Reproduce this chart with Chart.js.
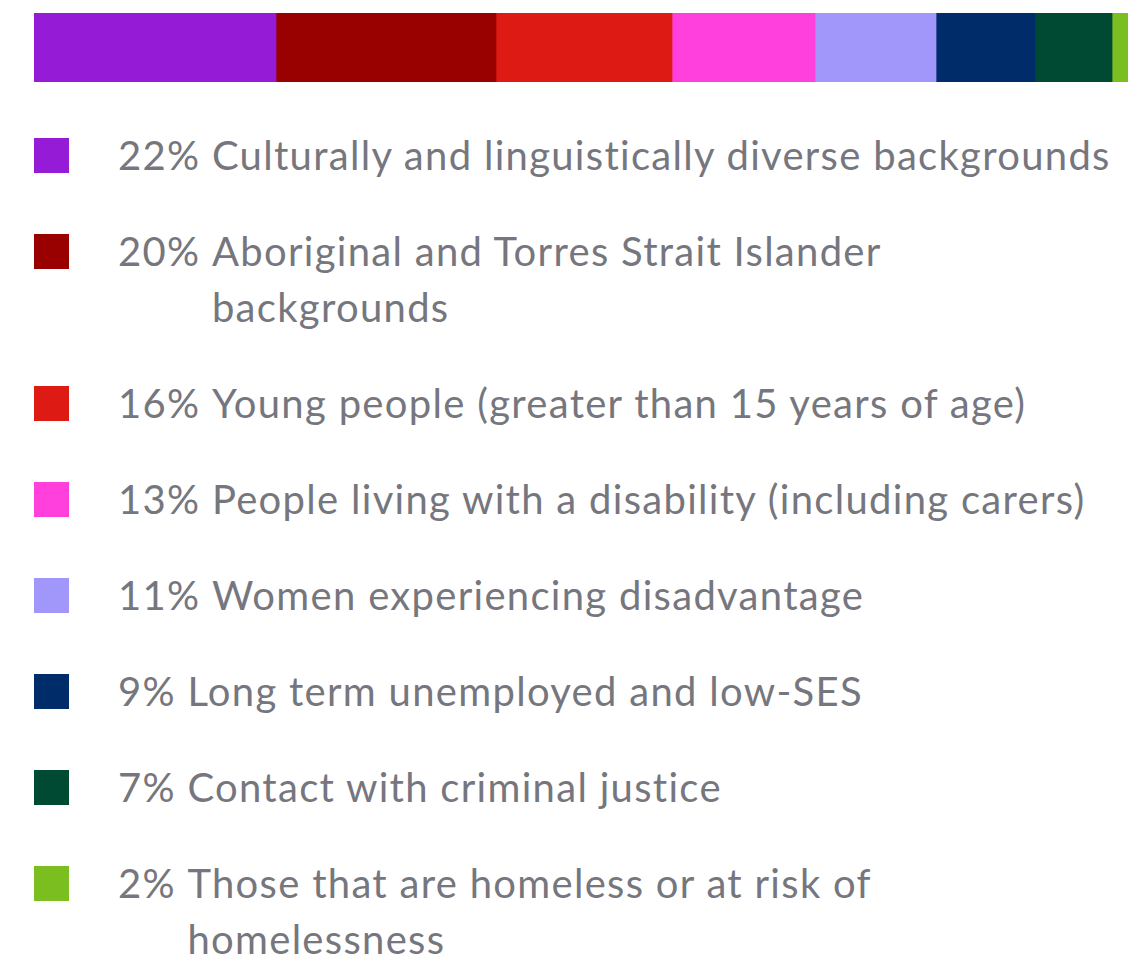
<!DOCTYPE html>
<html>
<head>
<meta charset="utf-8">
<script src="https://cdn.jsdelivr.net/npm/chart.js@4"></script>
<style>
  body { margin: 0; background: #fff; width: 1128px; height: 964px; overflow: hidden; }
  #wrap { position: relative; width: 1128px; height: 95px; }
  #legend { position: absolute; left: 34px; top: 127px; width: 1088px; font-family: Lato, sans-serif; font-size: 40px; letter-spacing: 1.3px; color: #76767e; }
  .item { display: flex; align-items: flex-start; line-height: 56px; margin-bottom: 40px; }
  .box { width: 35px; height: 35px; flex: none; margin-top: 11px; margin-right: 49px; }
  .pct { white-space: pre; flex: none; }
  .lbl { flex: 1 1 auto; }
</style>
</head>
<body>
<div id="wrap"><canvas id="chart"></canvas></div>
<div id="legend"></div>
<script>
// group labels, shares (%) and colours
const groups = [
  "Culturally and linguistically diverse backgrounds",
  "Aboriginal and Torres Strait Islander backgrounds",
  "Young people (greater than 15 years of age)",
  "People living with a disability (including carers)",
  "Women experiencing disadvantage",
  "Long term unemployed and low-SES",
  "Contact with criminal justice",
  "Those that are homeless or at risk of homelessness",
];
const shares = [22, 20, 16, 13, 11, 9, 7, 2];
const colors = ["#961bd6", "#990000", "#dd1a14", "#ff40dc", "#a196fa", "#002d6a", "#004a33", "#7abf1f"];

function chart() {
  const ctx = document.querySelector("#chart").getContext("2d");
  new Chart(ctx, {
    type: "bar",
    data: {
      labels: [""],
      datasets: groups.map((g, i) => ({
        label: g,
        data: [shares[i]],
        backgroundColor: colors[i],
        borderWidth: 0,
        barPercentage: 1,
        categoryPercentage: 1,
      })),
    },
    options: {
      indexAxis: "y",
      responsive: true,
      maintainAspectRatio: false,
      animation: false,
      layout: { padding: { left: 34, right: 0, top: 13, bottom: 13 } },
      scales: {
        x: { stacked: true, display: false, min: 0, max: 99.45 },
        y: { stacked: true, display: false },
      },
      plugins: { legend: { display: false }, tooltip: { enabled: false } },
    },
  });
}

function legend() {
  const el = document.querySelector("#legend");
  groups.forEach((g, i) => {
    const row = document.createElement("div");
    row.className = "item";
    row.innerHTML =
      '<span class="box" style="background:' + colors[i] + '"></span>' +
      '<span class="pct">' + shares[i] + "% </span>" +
      '<span class="lbl">' + g + "</span>";
    el.appendChild(row);
  });
}

chart();
legend();
</script>
</body>
</html>
